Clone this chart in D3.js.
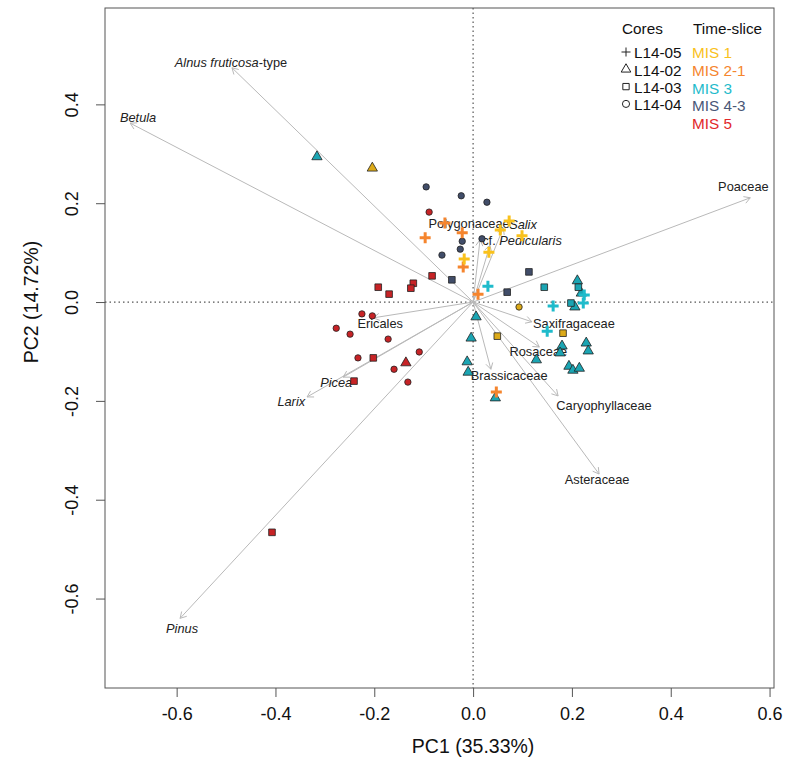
<!DOCTYPE html>
<html>
<head>
<meta charset="utf-8">
<script src="https://cdn.jsdelivr.net/npm/d3@7"></script>
<style>
  body { margin: 0; background: #fff; }
  svg text { font-family: "Liberation Sans", Arial, sans-serif; }
</style>
</head>
<body>
<script>
// cores (symbols) and time slices (colours)
const cores = ["L14-05", "L14-02", "L14-03", "L14-04"];
const slices = ["MIS 1", "MIS 2-1", "MIS 3", "MIS 4-3", "MIS 5"];
const sliceColors = ["#F9C11C", "#F5852E", "#1FBBCB", "#4A5777", "#E2282B"];

// taxa loadings (arrow tips) and where their labels sit, PC1/PC2 units
const taxa = ["_Alnus fruticosa_-type", "_Betula_", "Poaceae", "_Pinus_", "_Larix_", "_Picea_",
  "Ericales", "Polygonaceae", "_Salix_", "cf. _Pedicularis_", "Saxifragaceae", "Rosaceae",
  "Brassicaceae", "Caryophyllaceae", "Asteraceae"];
const loadPC1 = [-0.488, -0.694, 0.561, -0.593, -0.336, -0.263, -0.202, 0.014, 0.061, 0.034, 0.119, 0.134, 0.036, 0.172, 0.255];
const loadPC2 = [0.474, 0.362, 0.211, -0.640, -0.192, -0.152, -0.032, 0.126, 0.150, 0.115, -0.040, -0.091, -0.136, -0.190, -0.348];
const labelPC1 = [-0.490, -0.678, 0.547, -0.589, -0.368, -0.277, -0.188, -0.008, 0.101, 0.099, 0.204, 0.132, 0.073, 0.265, 0.251];
const labelPC2 = [0.484, 0.374, 0.233, -0.660, -0.202, -0.162, -0.043, 0.158, 0.156, 0.124, -0.043, -0.101, -0.148, -0.209, -0.360];

// sample scores: core, time slice, PC1, PC2
const samples = [
  // MIS 5
  ["L14-04", "MIS 5", -0.089, 0.182], ["L14-04", "MIS 5", -0.225, -0.024], ["L14-04", "MIS 5", -0.204, -0.028],
  ["L14-04", "MIS 5", -0.277, -0.053], ["L14-04", "MIS 5", -0.249, -0.065], ["L14-04", "MIS 5", -0.172, -0.075],
  ["L14-04", "MIS 5", -0.109, -0.101], ["L14-04", "MIS 5", -0.233, -0.113], ["L14-04", "MIS 5", -0.160, -0.136],
  ["L14-04", "MIS 5", -0.132, -0.162],
  ["L14-03", "MIS 5", -0.083, 0.053], ["L14-03", "MIS 5", -0.121, 0.038], ["L14-03", "MIS 5", -0.126, 0.028],
  ["L14-03", "MIS 5", -0.192, 0.030], ["L14-03", "MIS 5", -0.170, 0.016], ["L14-03", "MIS 5", -0.202, -0.113],
  ["L14-03", "MIS 5", -0.241, -0.160], ["L14-03", "MIS 5", -0.407, -0.466],
  ["L14-02", "MIS 5", -0.136, -0.123],
  // MIS 4-3
  ["L14-04", "MIS 4-3", -0.095, 0.233], ["L14-04", "MIS 4-3", -0.024, 0.215], ["L14-04", "MIS 4-3", 0.028, 0.202],
  ["L14-04", "MIS 4-3", -0.022, 0.123], ["L14-04", "MIS 4-3", 0.018, 0.128], ["L14-04", "MIS 4-3", -0.026, 0.107],
  ["L14-04", "MIS 4-3", -0.063, 0.095],
  ["L14-03", "MIS 4-3", -0.043, 0.045], ["L14-03", "MIS 4-3", 0.113, 0.061], ["L14-03", "MIS 4-3", 0.069, 0.020],
  // MIS 3
  ["L14-02", "MIS 3", -0.316, 0.294], ["L14-02", "MIS 3", 0.211, 0.043], ["L14-02", "MIS 3", 0.219, 0.018],
  ["L14-02", "MIS 3", 0.206, -0.010], ["L14-02", "MIS 3", 0.006, -0.030], ["L14-02", "MIS 3", -0.004, -0.073],
  ["L14-02", "MIS 3", -0.012, -0.121], ["L14-02", "MIS 3", -0.010, -0.142], ["L14-02", "MIS 3", 0.128, -0.117],
  ["L14-02", "MIS 3", 0.180, -0.089], ["L14-02", "MIS 3", 0.176, -0.103], ["L14-02", "MIS 3", 0.229, -0.083],
  ["L14-02", "MIS 3", 0.233, -0.099], ["L14-02", "MIS 3", 0.194, -0.130], ["L14-02", "MIS 3", 0.202, -0.138],
  ["L14-02", "MIS 3", 0.215, -0.134], ["L14-02", "MIS 3", 0.045, -0.194],
  ["L14-03", "MIS 3", 0.144, 0.030], ["L14-03", "MIS 3", 0.213, 0.030], ["L14-03", "MIS 3", 0.198, -0.002],
  ["L14-05", "MIS 3", 0.030, 0.032], ["L14-05", "MIS 3", 0.162, -0.008], ["L14-05", "MIS 3", 0.150, -0.059],
  ["L14-05", "MIS 3", 0.225, 0.014], ["L14-05", "MIS 3", 0.223, -0.002],
  // MIS 2-1
  ["L14-05", "MIS 2-1", -0.057, 0.160], ["L14-05", "MIS 2-1", -0.022, 0.140], ["L14-05", "MIS 2-1", -0.097, 0.130],
  ["L14-05", "MIS 2-1", -0.020, 0.071], ["L14-05", "MIS 2-1", 0.010, 0.016], ["L14-05", "MIS 2-1", 0.047, -0.182],
  // MIS 1
  ["L14-05", "MIS 1", 0.073, 0.164], ["L14-05", "MIS 1", 0.055, 0.146], ["L14-05", "MIS 1", 0.099, 0.134],
  ["L14-05", "MIS 1", 0.032, 0.101], ["L14-05", "MIS 1", -0.018, 0.087],
  ["L14-02", "MIS 1", -0.204, 0.271],
  ["L14-03", "MIS 1", 0.049, -0.069], ["L14-03", "MIS 1", 0.182, -0.063],
  ["L14-04", "MIS 1", 0.093, -0.010]
];

const xTicks = [-0.6, -0.4, -0.2, 0.0, 0.2, 0.4, 0.6];
const yTicks = [-0.6, -0.4, -0.2, 0.0, 0.2, 0.4];

const width = 794, height = 763;
const margin = { top: 8, right: 20, bottom: 75, left: 105 };

const x = d3.scaleLinear().domain([-0.745, 0.609]).range([margin.left, width - margin.right]);
const y = d3.scaleLinear().domain([-0.781, 0.595]).range([height - margin.bottom, margin.top]);
const color = d3.scaleOrdinal().domain(slices).range(sliceColors);

const svg = d3.select("body").append("svg")
  .attr("width", width)
  .attr("height", height);

// zero lines
svg.append("line")
  .attr("x1", x(0)).attr("x2", x(0))
  .attr("y1", margin.top).attr("y2", height - margin.bottom)
  .attr("stroke", "#555").attr("stroke-width", 1.2).attr("stroke-dasharray", "1.5,3");
svg.append("line")
  .attr("x1", margin.left).attr("x2", width - margin.right)
  .attr("y1", y(0)).attr("y2", y(0))
  .attr("stroke", "#555").attr("stroke-width", 1.2).attr("stroke-dasharray", "1.5,3");

// loadings arrows
const arrows = svg.append("g").attr("stroke", "#b9b9b9").attr("fill", "none").attr("stroke-width", 1);
taxa.forEach((t, i) => {
  const x0 = x(0), y0 = y(0), x1 = x(loadPC1[i]), y1 = y(loadPC2[i]);
  const a = Math.atan2(y1 - y0, x1 - x0), len = 7, spread = Math.PI / 6;
  arrows.append("path")
    .attr("d", `M${x0},${y0}L${x1},${y1}` +
      `M${x1 - len * Math.cos(a - spread)},${y1 - len * Math.sin(a - spread)}L${x1},${y1}` +
      `L${x1 - len * Math.cos(a + spread)},${y1 - len * Math.sin(a + spread)}`);
});

// taxa labels, _..._ marks italic parts
const labels = svg.append("g").attr("font-size", 12.8).attr("fill", "#222").attr("text-anchor", "middle");
taxa.forEach((t, i) => {
  const txt = labels.append("text")
    .attr("x", x(labelPC1[i]))
    .attr("y", y(labelPC2[i]))
    .attr("dy", "0.35em");
  t.split("_").forEach((part, j) => {
    if (part === "") return;
    txt.append("tspan").attr("font-style", j % 2 ? "italic" : "normal").text(part);
  });
});

// sample points
const symbolType = { "L14-02": d3.symbolTriangle, "L14-03": d3.symbolSquare, "L14-04": d3.symbolCircle };
const symbolSize = { "L14-02": 46, "L14-03": 44, "L14-04": 32 };
const pts = svg.append("g");
samples.forEach(([core, slice, pc1, pc2]) => {
  const c = color(slice);
  if (core === "L14-05") {
    pts.append("path")
      .attr("transform", `translate(${x(pc1)},${y(pc2)})`)
      .attr("d", "M-5.5,0H5.5M0,-5.5V5.5")
      .attr("stroke", c).attr("stroke-width", 3).attr("fill", "none");
  } else {
    pts.append("path")
      .attr("transform", `translate(${x(pc1)},${y(pc2)})`)
      .attr("d", d3.symbol().type(symbolType[core]).size(symbolSize[core])())
      .attr("fill", d3.color(c).darker(0.35))
      .attr("stroke", "#222").attr("stroke-width", 0.8);
  }
});

// box
svg.append("rect")
  .attr("x", margin.left).attr("y", margin.top)
  .attr("width", width - margin.left - margin.right)
  .attr("height", height - margin.top - margin.bottom)
  .attr("fill", "none").attr("stroke", "#555").attr("stroke-width", 1);

// axes
const xAxis = svg.append("g")
  .attr("transform", `translate(0,${height - margin.bottom})`)
  .call(d3.axisBottom(x).tickValues(xTicks).tickFormat(d => d.toFixed(1)).tickSize(9).tickPadding(10));
const yAxis = svg.append("g")
  .attr("transform", `translate(${margin.left},0)`)
  .call(d3.axisLeft(y).tickValues(yTicks).tickFormat(d => d.toFixed(1)).tickSize(9));
[xAxis, yAxis].forEach(g => {
  g.select(".domain").remove();
  g.selectAll(".tick line").attr("stroke", "#555");
  g.selectAll(".tick text").attr("font-size", 18).attr("fill", "#111")
    .attr("font-family", "'Liberation Sans', Arial, sans-serif");
});
yAxis.selectAll(".tick text")
  .attr("x", null).attr("dy", null)
  .attr("text-anchor", "middle")
  .attr("transform", "translate(-27,0) rotate(-90)");

svg.append("text")
  .attr("x", x(0)).attr("y", 753)
  .attr("text-anchor", "middle").attr("font-size", 19.5).attr("fill", "#111")
  .text("PC1 (35.33%)");
svg.append("text")
  .attr("transform", `translate(38,${y(0)}) rotate(-90)`)
  .attr("text-anchor", "middle").attr("font-size", 19.5).attr("fill", "#111")
  .text("PC2 (14.72%)");

// legend
const leg = svg.append("g").attr("font-size", 15.3).attr("fill", "#111");
leg.append("text").attr("x", 622).attr("y", 34).text("Cores");
leg.append("text").attr("x", 693).attr("y", 34).text("Time-slice");
const legSymbols = { "L14-02": d3.symbolTriangle, "L14-03": d3.symbolSquare, "L14-04": d3.symbolCircle };
cores.forEach((c, i) => {
  const cy = 53 + i * 17.3;
  if (c === "L14-05") {
    leg.append("path").attr("transform", `translate(626,${cy - 1})`)
      .attr("d", "M-4.5,0H4.5M0,-4.5V4.5").attr("stroke", "#222").attr("fill", "none");
  } else {
    leg.append("path").attr("transform", `translate(626,${cy - 1})`)
      .attr("d", d3.symbol().type(legSymbols[c]).size(40)())
      .attr("stroke", "#222").attr("fill", "none");
  }
  leg.append("text").attr("x", 634).attr("y", cy).attr("dy", "0.35em").text(c);
});
slices.forEach((s, i) => {
  leg.append("text").attr("x", 692).attr("y", 53 + i * 17.6).attr("dy", "0.35em")
    .attr("fill", color(s)).text(s);
});
</script>
</body>
</html>
